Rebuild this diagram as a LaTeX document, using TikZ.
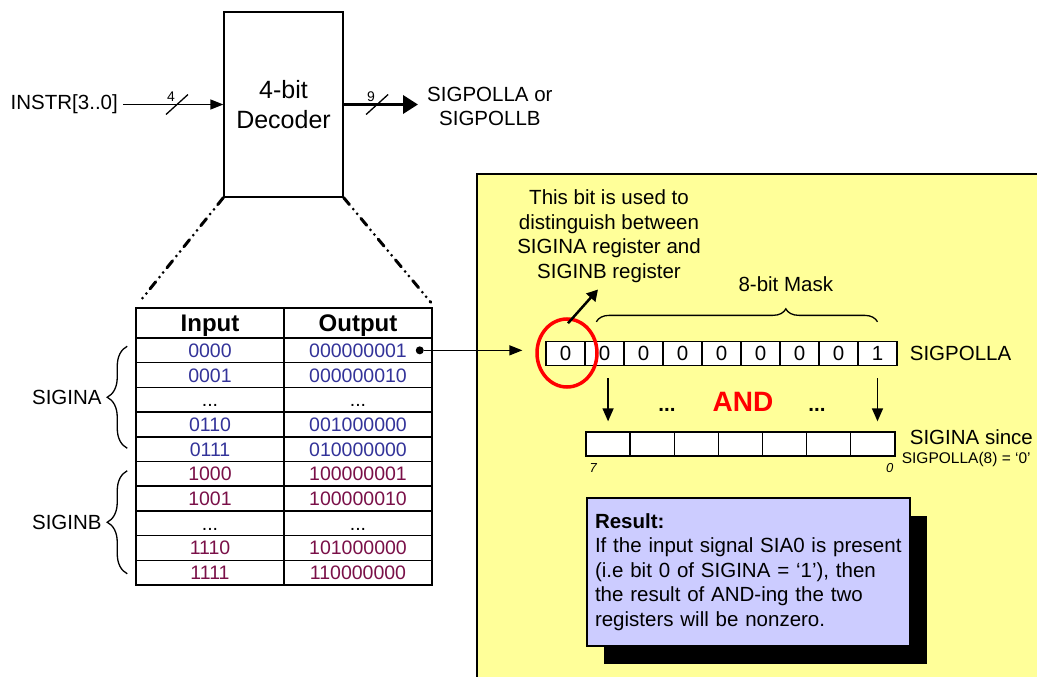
\documentclass[tikz,border=0pt]{standalone}
\usepackage{fontspec}
\setmainfont{Liberation Sans}
\usepackage{tikz}
\usetikzlibrary{positioning, shapes.geometric, arrows.meta, calc, decorations.pathreplacing, shadows}
\definecolor{panelyel}{HTML}{FFFF99}
\definecolor{resblue}{HTML}{CCCCFF}
\definecolor{sigablue}{HTML}{333399}
\definecolor{sigbred}{HTML}{7A1048}
\newcommand\txtfont{\fontsize{20.5}{24.5}\selectfont}
\newcommand\decfont{\fontsize{25}{30}\selectfont}
\newcommand\tabfont{\fontsize{19.5}{23}\selectfont}
\newcommand\hdfont{\fontsize{24}{28}\selectfont\bfseries}
\newcommand\smlfont{\fontsize{14}{16}\selectfont}
\newcommand\notefont{\fontsize{15.5}{18}\selectfont}
\newcommand\itfont{\fontsize{13}{15}\selectfont\itshape}
\newcommand\andfont{\fontsize{28}{32}\selectfont\bfseries}
\newcommand\tdots{...}
\tikzset{
  % plain text label
  lbl/.style={font=\txtfont, inner sep=0pt},
  % one cell of the lookup table
  tcell/.style={draw, line width=1.5pt, minimum width=148pt, minimum height=24.7pt,
                inner sep=0pt, text height=14pt, text depth=0pt, font=\tabfont},
  hcell/.style={tcell, minimum height=30pt, text height=17pt, font=\hdfont},
  % one bit of a register
  rbit/.style={draw, fill=white, line width=1.3pt, minimum width=39pt,
               minimum height=24pt, inner sep=0pt, text height=14.5pt,
               text depth=0pt, font=\txtfont},
  mbit/.style={rbit, minimum width=44.14pt},
  % plain wire and bus wire
  wire/.style={line width=1.3pt, -{Triangle[length=13pt,width=10pt]}},
  buswire/.style={line width=3.5pt, -{Triangle[length=15pt,width=18pt]}},
  slash/.style={line width=1.3pt},
  % dash-dot-dot zoom lines
  zoomline/.style={line width=3pt, line cap=round,
                   dash pattern=on 9pt off 6pt on 0pt off 6pt on 0pt off 6pt},
  brc/.style={decorate, decoration={brace, amplitude=#1}, line width=1.3pt},
  darrow/.style={line width=1.5pt, -{Triangle[length=13pt,width=11pt]}},
}

\begin{document}
\begin{tikzpicture}[x=1pt, y=-1pt]
  \useasboundingbox (0,0) rectangle (1037,677);
  % yellow panel, runs off the page
  \filldraw[fill=panelyel, line width=1.2pt] (477,174) rectangle (1050,690);

  % decoder with its input and output
  \node[draw, line width=1.3pt, minimum width=119pt, minimum height=185pt,
        align=center, font=\decfont] (dec) at (283.5,104.5) {4-bit\\Decoder};
  \node[lbl, anchor=east] (instr) at (118,104.5) {INSTR[3..0]};
  \node[lbl, align=center, anchor=west] (sigout) at (427,106.5) {SIGPOLLA or\\SIGPOLLB};
  \draw[wire] ([xshift=5pt]instr.east) -- (dec.west);
  \draw[buswire] (dec.east) -- ([xshift=-9pt]sigout.west |- dec.east);
  \path (instr.east) -- (dec.west) coordinate[pos=0.56] (w4);
  \path (dec.east) -- ([xshift=-9pt]sigout.west |- dec.east) coordinate[pos=0.45] (w9);
  \foreach \w/\n in {w4/4, w9/9} {
    \draw[slash] (\w) ++(-11,10) -- ++(22,-20);
    \node[font=\smlfont, inner sep=0pt] at ([shift={(-6,-8)}]\w) {\n};
  }

  % lookup table
  \node[hcell] (hin) at (210,323) {Input};
  \node[hcell] (hout) at (358,323) {Output};
  \foreach \i/\a/\b/\c in {1/0000/000000001/sigablue, 2/0001/000000010/sigablue,
      3/\tdots/\tdots/black, 4/0110/001000000/sigablue, 5/0111/010000000/sigablue,
      6/1000/100000001/sigbred, 7/1001/100000010/sigbred, 8/\tdots/\tdots/black,
      9/1110/101000000/sigbred, 10/1111/110000000/sigbred} {
    \node[tcell, text=\c] (in\i) at (210,{325.65+24.7*\i}) {\a};
    \node[tcell, text=\c] (out\i) at (358,{325.65+24.7*\i}) {\b};
  }
  \draw[zoomline] (dec.south west) -- ([xshift=4pt,yshift=5pt]hin.north west);
  \draw[zoomline] (dec.south east) -- ([xshift=-2pt,yshift=5pt]hout.north east);
  \draw[brc=20pt] ([xshift=-8pt,yshift=14pt]in5.south west)
    -- ([xshift=-8pt,yshift=-9pt]in1.north west) node[midway, lbl, left=25pt] {SIGINA};
  \draw[brc=20pt] ([xshift=-8pt,yshift=12pt]in10.south west)
    -- ([xshift=-8pt,yshift=-10pt]in6.north west) node[midway, lbl, left=25pt] {SIGINB};

  % SIGPOLLA register
  \foreach \i/\v in {1/0, 2/0, 3/0, 4/0, 5/0, 6/0, 7/0, 8/0, 9/1}
    \node[rbit] (p\i) at ({546+39*(\i-0.5)},353.5) {\v};
  \node[lbl, anchor=west] (pname) at ([xshift=12pt]p9.east) {SIGPOLLA};
  \node[circle, fill, inner sep=0pt, minimum size=8pt] (tap) at ([xshift=-13pt]out1.east) {};
  \draw[wire] (tap) -- ([xshift=-23pt]p1.west |- tap);
  \node[ellipse, draw=red, line width=3.5pt, minimum width=60pt, minimum height=68pt,
        inner sep=0pt] (circ) at (567,353) {};

  % note on the top bit
  \node[lbl, align=center] (note) at (609,236)
    {This bit is used to\\distinguish between\\SIGINA register and\\SIGINB register};
  \draw[line width=2.5pt, -{Triangle[length=11pt,width=12pt]}]
    ([xshift=1pt,yshift=-6pt]circ.north) -- ([xshift=-11pt,yshift=-7pt]note.south);
  \draw[brc=13pt, decoration={aspect=0.674}] ([xshift=12pt,yshift=19pt]p2.north west)
    -- ([yshift=19pt]p9.north) node[pos=0.674, lbl, above=30pt] {8-bit Mask};

  % SIGINA register
  \foreach \i in {1,...,7}
    \node[mbit] (m\i) at ({586+44.14*(\i-0.5)},444) {};
  \node[font=\itfont, inner sep=0pt, anchor=north west] at ([xshift=4pt,yshift=-7pt]m1.south west) {7};
  \node[font=\itfont, inner sep=0pt, anchor=north east] at ([xshift=-2pt,yshift=-7pt]m7.south east) {0};
  \node[lbl, anchor=west] (since) at ([xshift=14pt,yshift=7pt]m7.east) {SIGINA since};
  \node[font=\notefont, inner sep=0pt, anchor=west] (cond) at ([xshift=6pt,yshift=-15pt]m7.east)
    {SIGPOLLA(8) = `0'};
  \draw[darrow] ([yshift=-12pt]p2.south -| m1) -- ([yshift=10pt]m1.north);
  \draw[darrow] ([yshift=-12pt]p9.south) -- ([yshift=10pt]m7.north -| p9);
  \node[font=\andfont, text=red, inner sep=0pt, anchor=base] (and) at (743,411) {AND};
  \node[font=\txtfont\bfseries, inner sep=0pt, anchor=base] (dl) at (667,411) {...};
  \node[font=\txtfont\bfseries, inner sep=0pt, anchor=base] (dr) at (817,411) {...};

  % result box
  \node[draw, fill=resblue, line width=1.2pt, minimum width=323pt, minimum height=148pt,
        text width=307pt, inner xsep=8pt, align=left, font=\txtfont,
        drop shadow={shadow xshift=17pt, shadow yshift=-18pt, fill=black, opacity=1}]
    (res) at (748.5,572)
    {\textbf{Result:}\\If the input signal SIA0 is present\\(i.e bit 0 of SIGINA = `1'), then\\the result of AND-ing the two\\registers will be nonzero.};
\end{tikzpicture}
\end{document}
